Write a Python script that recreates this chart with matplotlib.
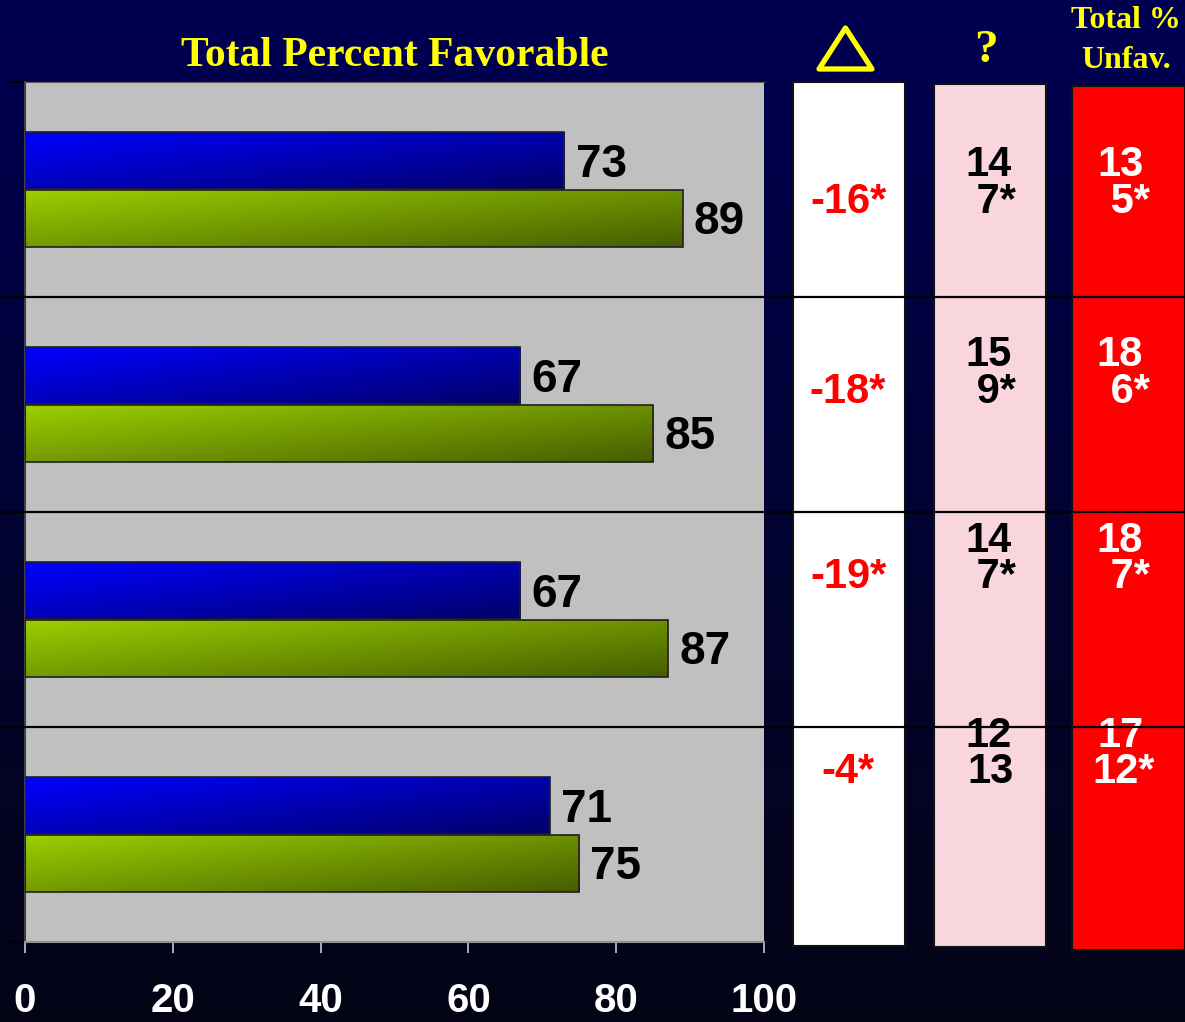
import numpy as np
import matplotlib
matplotlib.use("Agg")
import matplotlib.pyplot as plt
from matplotlib.patches import Rectangle, Polygon
from matplotlib.lines import Line2D
from matplotlib.transforms import blended_transform_factory, offset_copy

# ---------------- data ----------------
groups = ["G1", "G2", "G3", "G4"]
blue_vals = [73, 67, 67, 71]
green_vals = [89, 85, 87, 75]
delta_labels = ["-16*", "-18*", "-19*", "-4*"]
unsure_top = ["14", "15", "14", "12"]
unsure_bottom = [" 7*", " 9*", " 7*", "13"]
unfav_top = ["13", "18", "18", "17"]
unfav_bottom = [" 5*", " 6*", " 7*", "12*"]
x_ticks = [0, 20, 40, 60, 80, 100]

W, H = 1185, 1022
fig = plt.figure(figsize=(W / 100, H / 100), dpi=100)

def fx(x):
    return x / W

def fy(y):
    return 1 - y / H

SANS = ["Liberation Sans", "DejaVu Sans"]
SERIF = ["Liberation Serif", "DejaVu Serif"]

# ---------------- background gradient ----------------
bg = fig.add_axes([0, 0, 1, 1], zorder=-10)
t = np.linspace(0, 1, 256)[:, None]
top = np.array([0, 0, 82]) / 255
bot = np.array([4, 4, 22]) / 255
grad = (top[None, None, :] * (1 - t[..., None]) + bot[None, None, :] * t[..., None])
grad = np.repeat(grad, 4, axis=1)
bg.imshow(grad, aspect="auto", extent=(0, 1, 0, 1), origin="upper")
bg.set_xlim(0, 1)
bg.set_ylim(0, 1)
bg.axis("off")

# ---------------- main bar axes ----------------
ax = fig.add_axes([fx(25), fy(942), 739 / W, 860 / H])
ax.set_facecolor("#c0c0c0")

n = len(groups)
centers = np.arange(n) + 0.5
bh = 0.265
off = 0.133

def grad_img(c_tl, c_br):
    u = np.linspace(0, 1, 64)[None, :]
    v = np.linspace(0, 1, 32)[:, None]
    s = np.clip(0.55 * u + 0.45 * v, 0, 1)
    c_tl = np.array(c_tl) / 255
    c_br = np.array(c_br) / 255
    return c_tl[None, None, :] * (1 - s[..., None]) + c_br[None, None, :] * s[..., None]

blue_img = grad_img((0, 0, 255), (0, 0, 105))
green_img = grad_img((155, 206, 0), (70, 94, 0))

bars_b = ax.barh(centers - off, blue_vals, height=bh, color="none",
                 edgecolor="#202020", linewidth=1.2, zorder=3)
bars_g = ax.barh(centers + off, green_vals, height=bh, color="none",
                 edgecolor="#202020", linewidth=1.2, zorder=3)

for bars, img in ((bars_b, blue_img), (bars_g, green_img)):
    for r in bars:
        x0, y0 = r.get_x(), r.get_y()
        x1, y1 = x0 + r.get_width(), y0 + r.get_height()
        ax.imshow(img, extent=(x0, x1, y1, y0), aspect="auto",
                  origin="upper", zorder=2, interpolation="bilinear")

lab_tr = offset_copy(ax.transData, fig=fig, x=0, y=-4, units="dots")
for bars, vals in ((bars_b, blue_vals), (bars_g, green_vals)):
    for r, v in zip(bars, vals):
        ax.text(r.get_width() + 1.5, r.get_y() + r.get_height() / 2, f"{v}",
                ha="left", va="center", fontsize=33, fontweight="bold",
                family=SANS, color="black", zorder=5, transform=lab_tr)

ax.set_xlim(0, 100)
ax.set_ylim(n, 0)
ax.set_xticks(x_ticks)
ax.set_xticklabels([str(v) for v in x_ticks])
ax.tick_params(axis="x", direction="out", length=8, width=1.2,
               color="#c8c8c8", pad=21, labelsize=29, labelcolor="white")
for lab in ax.get_xticklabels():
    lab.set_fontweight("bold")
    lab.set_family(SANS)
ax.set_yticks([0, n])
ax.set_yticklabels([])
ax.tick_params(axis="y", direction="out", length=13, width=1.5, color="black")
ax.spines["left"].set_color("#404040")
ax.spines["left"].set_linewidth(1.5)
ax.spines["top"].set_color("#606060")
ax.spines["bottom"].set_color("#909090")
ax.spines["bottom"].set_linewidth(1.5)
ax.spines["right"].set_visible(False)

# ---------------- title and headers ----------------
fig.text(fx(395), fy(56), "Total Percent Favorable", ha="center", va="center",
         fontsize=30, fontweight="bold", family=SERIF, color="#ffff00")
fig.text(fx(986), fy(51), "?", ha="center", va="center",
         fontsize=34, fontweight="bold", family=SERIF, color="#ffff00")
fig.text(fx(1126), fy(21), "Total %", ha="center", va="center",
         fontsize=23, fontweight="bold", family=SERIF, color="#ffff00")
fig.text(fx(1126), fy(61), "Unfav.", ha="center", va="center",
         fontsize=23, fontweight="bold", family=SERIF, color="#ffff00")
tri = Polygon([(fx(819), fy(69)), (fx(872), fy(69)), (fx(845.5), fy(28))],
              closed=True, fill=False, edgecolor="#ffff00", linewidth=3.8,
              joinstyle="round", transform=fig.transFigure)
fig.patches.append(tri)

# ---------------- right-hand columns ----------------
boxes = [((793, 82, 905, 946), "white"),
         ((934, 84, 1046, 947), "#f9d5de"),
         ((1072, 86, 1185, 950), "#ff0000")]
for (x0, y0, x1, y1), col in boxes:
    fig.patches.append(Rectangle((fx(x0), fy(y1)), fx(x1) - fx(x0), fy(y0) - fy(y1),
                                 transform=fig.transFigure, facecolor=col,
                                 edgecolor="#101010", linewidth=1.5, zorder=1))

row_top_y = [165, 355, 541, 736]
row_bot_y = [202, 392, 577, 772]
CF = 30
for i in range(n):
    fig.text(fx(848), fy(row_bot_y[i]), delta_labels[i], ha="center", va="center",
             fontsize=CF, fontweight="bold", family=SANS, color="#ff0000", zorder=3)
    fig.text(fx(988), fy(row_top_y[i]), unsure_top[i], ha="center", va="center",
             fontsize=CF, fontweight="bold", family=SANS, color="black", zorder=3)
    fig.text(fx(990), fy(row_bot_y[i]), unsure_bottom[i], ha="center", va="center",
             fontsize=CF, fontweight="bold", family=SANS, color="black", zorder=3)
    fig.text(fx(1120), fy(row_top_y[i]), unfav_top[i], ha="center", va="center",
             fontsize=CF, fontweight="bold", family=SANS, color="white", zorder=3)
    fig.text(fx(1124), fy(row_bot_y[i]), unfav_bottom[i], ha="center", va="center",
             fontsize=CF, fontweight="bold", family=SANS, color="white", zorder=3)

# ---------------- group separator lines across the figure ----------------
tr = blended_transform_factory(fig.transFigure, ax.transData)
for b in range(1, n):
    fig.lines.append(Line2D([0, 1], [b, b], transform=tr, color="black",
                            linewidth=1.6, zorder=10))

fig.savefig("out.png", dpi=100)
